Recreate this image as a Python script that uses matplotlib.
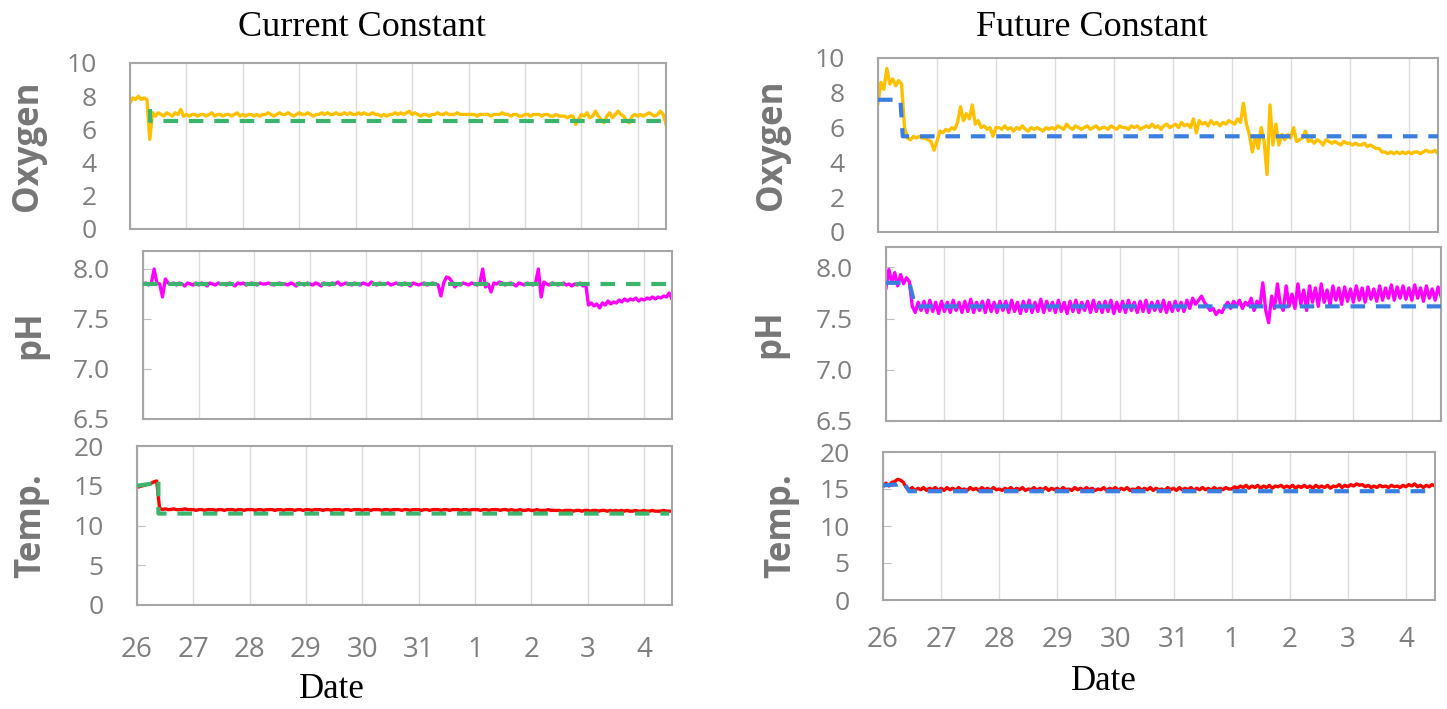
import numpy as np
import matplotlib.pyplot as plt

W, H = 1447, 709
DT = 0.05  # days between logged samples

day_labels = ['26', '27', '28', '29', '30', '31', '1', '2', '3', '4']

# ---- Current Constant (left) ----
cur_oxygen = [
    7.6, 7.9, 7.8, 8.0, 7.8, 7.9, 7.8, 5.4, 7.0, 6.8, 7.0, 6.9, 6.8, 7.0, 6.9, 6.8, 7.0, 6.9, 7.2, 6.8,
    6.9, 6.8, 6.9, 6.9, 6.8, 6.9, 6.9, 6.8, 6.9, 7.0, 6.8, 6.9, 6.9, 6.8, 6.9, 6.9, 6.8, 6.9, 7.0, 6.8,
    6.9, 6.8, 6.9, 6.9, 6.8, 6.9, 6.8, 6.9, 6.9, 7.0, 6.9, 6.8, 6.9, 7.0, 6.9, 6.9, 7.0, 6.9, 6.8, 6.9,
    7.0, 6.9, 6.9, 7.0, 6.9, 6.8, 6.9, 6.9, 7.0, 6.9, 7.0, 6.9, 6.9, 7.0, 6.9, 6.9, 7.0, 6.9, 7.0, 6.9,
    6.9, 7.0, 6.9, 7.0, 6.9, 6.9, 7.0, 6.9, 6.9, 6.8, 6.9, 6.8, 6.9, 6.9, 7.0, 6.9, 7.0, 6.9, 7.0, 7.1,
    6.9, 7.0, 6.9, 6.8, 6.9, 6.9, 6.8, 6.9, 6.9, 7.0, 6.9, 6.9, 7.0, 6.9, 6.9, 6.9, 7.0, 6.9, 6.9, 6.9,
    6.9, 6.9, 6.9, 6.8, 6.9, 6.9, 6.9, 6.9, 6.8, 6.9, 6.9, 6.9, 7.0, 6.9, 6.9, 6.8, 6.9, 6.9, 6.8, 6.8,
    6.9, 6.9, 6.8, 6.9, 6.9, 6.9, 6.8, 6.9, 6.9, 6.8, 6.8, 6.9, 6.8, 6.8, 6.8, 6.7, 6.8, 6.8, 6.3, 6.6,
    6.9, 6.8, 7.0, 6.7, 6.8, 7.1, 6.8, 6.6, 6.4, 6.8, 7.0, 6.7, 6.9, 7.1, 6.9, 6.8, 6.5, 6.4, 6.8, 6.9,
    6.8, 6.9, 6.8, 6.9, 7.0, 6.9, 6.8, 6.9, 7.1, 6.9, 6.3,
]
cur_oxygen_set_x = [0.35, 0.35, 9.45]
cur_oxygen_set = [7.2, 6.5, 6.5]

cur_ph = [
    7.85, 7.86, 7.84, 7.86, 8.00, 7.86, 7.85, 7.72, 7.90, 7.86, 7.85, 7.86, 7.84, 7.86, 7.85, 7.83, 7.86, 7.85, 7.84, 7.86,
    7.84, 7.86, 7.85, 7.83, 7.86, 7.85, 7.84, 7.86, 7.85, 7.85, 7.84, 7.86, 7.85, 7.83, 7.86, 7.85, 7.86, 7.84, 7.85, 7.86,
    7.85, 7.84, 7.86, 7.85, 7.85, 7.86, 7.85, 7.84, 7.85, 7.86, 7.85, 7.85, 7.84, 7.86, 7.85, 7.83, 7.86, 7.85, 7.84, 7.86,
    7.85, 7.84, 7.86, 7.85, 7.83, 7.86, 7.85, 7.84, 7.86, 7.85, 7.87, 7.84, 7.85, 7.86, 7.85, 7.84, 7.86, 7.85, 7.84, 7.86,
    7.85, 7.84, 7.87, 7.85, 7.84, 7.86, 7.85, 7.85, 7.86, 7.84, 7.85, 7.86, 7.85, 7.84, 7.86, 7.85, 7.83, 7.86, 7.85, 7.84,
    7.85, 7.86, 7.84, 7.85, 7.86, 7.85, 7.84, 7.73, 7.86, 7.92, 7.91, 7.87, 7.82, 7.85, 7.84, 7.86, 7.85, 7.84, 7.86, 7.85,
    7.84, 7.86, 8.00, 7.82, 7.85, 7.77, 7.86, 7.85, 7.87, 7.86, 7.84, 7.85, 7.86, 7.85, 7.83, 7.86, 7.85, 7.84, 7.86, 7.85,
    7.84, 7.86, 8.00, 7.72, 7.87, 7.85, 7.84, 7.86, 7.85, 7.84, 7.85, 7.86, 7.84, 7.85, 7.83, 7.85, 7.84, 7.86, 7.83, 7.85,
    7.64, 7.66, 7.63, 7.65, 7.61, 7.66, 7.64, 7.68, 7.65, 7.67, 7.66, 7.69, 7.67, 7.70, 7.68, 7.70, 7.69, 7.71, 7.68, 7.70,
    7.69, 7.71, 7.70, 7.72, 7.70, 7.72, 7.71, 7.73, 7.72, 7.76, 7.70,
]
cur_ph_set_x = [0, 9.5]
cur_ph_set = [7.85, 7.85]

cur_temp = [
    14.8, 14.9, 15.0, 15.1, 15.2, 15.3, 15.5, 15.6, 12.2, 12.0, 12.1, 12.0, 12.0, 12.1, 12.0, 12.0, 12.0, 12.1, 12.0, 12.0,
    12.0, 11.9, 12.0, 12.0, 11.9, 12.0, 12.0, 12.0, 11.9, 12.0, 12.0, 11.9, 12.0, 12.0, 12.0, 11.9, 12.0, 12.0, 11.9, 12.0,
    12.0, 12.0, 11.9, 12.0, 12.0, 11.9, 12.0, 12.0, 12.0, 11.9, 12.0, 12.0, 11.9, 12.0, 12.0, 12.0, 11.9, 12.0, 12.0, 11.9,
    12.0, 12.0, 11.9, 12.0, 12.0, 12.0, 11.9, 12.0, 12.0, 11.9, 12.0, 12.0, 12.0, 11.9, 12.0, 12.0, 11.9, 12.0, 12.0, 12.0,
    11.9, 12.0, 12.0, 11.9, 12.0, 12.0, 12.0, 11.9, 12.0, 12.0, 11.9, 12.0, 12.0, 12.0, 11.9, 12.0, 12.0, 11.9, 12.0, 12.0,
    12.0, 11.9, 12.0, 12.0, 11.9, 12.0, 12.0, 12.0, 11.9, 12.0, 12.0, 11.9, 12.0, 12.0, 12.0, 11.9, 12.0, 12.0, 11.9, 12.0,
    12.0, 12.0, 11.9, 12.0, 12.0, 11.9, 12.0, 12.0, 12.0, 11.9, 12.0, 12.0, 11.9, 12.0, 11.9, 11.9, 12.0, 11.9, 11.9, 12.0,
    11.9, 11.9, 12.0, 11.9, 11.9, 11.9, 12.0, 11.9, 11.9, 11.9, 11.9, 11.8, 11.9, 11.9, 11.9, 11.8, 11.9, 11.9, 11.8, 11.9,
    11.9, 11.8, 11.9, 11.9, 11.8, 11.9, 11.9, 11.8, 11.9, 11.8, 11.9, 11.8, 11.9, 11.8, 11.9, 11.8, 11.8, 11.9, 11.8, 11.8,
    11.9, 11.8, 11.8, 11.9, 11.8, 11.8, 11.8, 11.9, 11.8, 11.8, 11.8,
]
cur_temp_set_x = [0, 0.3, 0.38, 0.38, 9.45]
cur_temp_set = [15.0, 15.3, 15.8, 11.5, 11.5]

# ---- Future Constant (right) ----
fut_oxygen = [
    7.4, 8.6, 8.2, 9.4, 8.5, 8.8, 8.4, 8.7, 8.5, 6.0, 5.4, 5.3, 5.5, 5.4, 5.5, 5.4, 5.4, 5.3, 5.2, 4.7,
    5.2, 5.8, 5.7, 5.9, 5.8, 6.0, 5.9, 6.3, 7.2, 6.4, 6.8, 6.5, 7.3, 6.2, 6.4, 6.0, 6.1, 5.9, 6.0, 5.5,
    6.0, 6.0, 5.9, 6.1, 5.9, 6.0, 5.8, 6.0, 5.9, 6.1, 5.9, 5.8, 6.0, 5.9, 6.0, 5.9, 5.8, 6.0, 5.9, 6.0,
    5.9, 6.1, 6.0, 5.9, 6.2, 6.0, 5.9, 6.1, 6.0, 5.9, 6.0, 6.1, 5.9, 6.0, 6.1, 5.9, 6.0, 6.0, 5.9, 6.1,
    6.0, 5.9, 6.1, 6.0, 6.0, 5.9, 6.1, 6.0, 6.1, 5.9, 6.0, 6.1, 6.0, 6.2, 6.0, 6.1, 5.9, 6.1, 6.2, 6.0,
    6.1, 6.2, 6.0, 6.3, 6.1, 6.2, 6.0, 6.5, 5.7, 6.4, 6.2, 6.3, 6.1, 6.4, 6.2, 6.3, 6.1, 6.3, 6.2, 6.4,
    6.3, 6.2, 6.5, 6.3, 7.4, 6.2, 5.6, 4.6, 5.5, 4.8, 6.0, 5.2, 3.3, 7.3, 5.0, 6.2, 5.0, 5.6, 5.3, 5.6,
    5.4, 6.0, 5.2, 5.3, 5.4, 5.8, 5.2, 5.3, 5.1, 5.3, 5.2, 5.0, 5.3, 5.2, 5.1, 5.2, 5.1, 5.0, 5.2, 5.1,
    5.1, 5.0, 5.1, 5.0, 5.0, 5.1, 4.9, 5.0, 4.9, 4.8, 4.8, 4.6, 4.6, 4.5, 4.6, 4.5, 4.6, 4.5, 4.6, 4.5,
    4.6, 4.5, 4.6, 4.6, 4.5, 4.6, 4.7, 4.6, 4.6, 4.7, 4.5,
]
fut_oxygen_set_x = [0, 0.38, 0.42, 9.5]
fut_oxygen_set = [7.6, 7.6, 5.5, 5.5]

fut_ph = [
    7.80, 7.98, 7.85, 7.95, 7.82, 7.93, 7.84, 7.90, 7.86, 7.62, 7.56, 7.66, 7.58, 7.67, 7.56, 7.68, 7.57, 7.66, 7.55, 7.67,
    7.57, 7.66, 7.56, 7.68, 7.58, 7.66, 7.56, 7.67, 7.57, 7.69, 7.56, 7.66, 7.58, 7.67, 7.56, 7.68, 7.57, 7.66, 7.56, 7.67,
    7.58, 7.67, 7.56, 7.68, 7.57, 7.66, 7.55, 7.67, 7.57, 7.68, 7.56, 7.66, 7.57, 7.69, 7.56, 7.67, 7.58, 7.66, 7.56, 7.68,
    7.57, 7.66, 7.55, 7.67, 7.57, 7.68, 7.56, 7.66, 7.58, 7.67, 7.56, 7.68, 7.57, 7.66, 7.56, 7.67, 7.57, 7.68, 7.55, 7.66,
    7.57, 7.67, 7.56, 7.68, 7.58, 7.66, 7.56, 7.67, 7.57, 7.68, 7.56, 7.66, 7.58, 7.67, 7.57, 7.68, 7.56, 7.66, 7.57, 7.67,
    7.58, 7.66, 7.57, 7.68, 7.60, 7.70, 7.64, 7.68, 7.72, 7.66, 7.62, 7.58, 7.60, 7.54, 7.58, 7.56, 7.62, 7.66, 7.60, 7.67,
    7.62, 7.68, 7.60, 7.66, 7.63, 7.70, 7.58, 7.67, 7.62, 7.85, 7.58, 7.46, 7.72, 7.60, 7.84, 7.64, 7.58, 7.82, 7.62, 7.74,
    7.60, 7.84, 7.64, 7.78, 7.58, 7.82, 7.66, 7.80, 7.62, 7.84, 7.66, 7.78, 7.63, 7.82, 7.68, 7.80, 7.64, 7.81, 7.67, 7.79,
    7.66, 7.82, 7.68, 7.80, 7.66, 7.81, 7.69, 7.79, 7.67, 7.82, 7.68, 7.80, 7.70, 7.83, 7.68, 7.81, 7.70, 7.82, 7.69, 7.80,
    7.68, 7.83, 7.70, 7.80, 7.67, 7.82, 7.70, 7.79, 7.68, 7.81, 7.72,
]
fut_ph_set_x = [0, 0.4, 0.5, 9.5]
fut_ph_set = [7.85, 7.85, 7.62, 7.62]

fut_temp = [
    15.3, 15.8, 15.4, 15.9, 16.0, 16.3, 16.2, 15.9, 15.2, 14.9, 15.2, 14.8, 15.1, 14.9, 15.2, 14.8, 15.1, 14.9, 15.2, 14.8,
    15.1, 14.8, 15.2, 14.9, 15.1, 14.8, 15.2, 14.9, 15.0, 14.8, 15.2, 14.9, 15.1, 14.8, 15.2, 14.9, 15.1, 14.8, 15.2, 14.9,
    15.0, 14.8, 15.1, 14.9, 15.2, 14.8, 15.1, 14.9, 15.2, 14.8, 15.0, 14.9, 15.2, 14.8, 15.1, 14.9, 15.2, 14.8, 15.1, 14.9,
    15.1, 14.8, 15.2, 14.9, 15.0, 14.8, 15.2, 14.9, 15.1, 14.8, 15.2, 14.9, 15.1, 14.8, 15.0, 14.9, 15.2, 14.8, 15.1, 14.9,
    15.2, 14.8, 15.1, 14.9, 15.2, 14.8, 15.0, 14.9, 15.2, 14.8, 15.1, 14.9, 15.2, 14.8, 15.1, 14.9, 15.0, 14.8, 15.2, 14.9,
    15.1, 14.8, 15.2, 14.9, 15.1, 14.9, 15.2, 14.8, 15.1, 14.9, 15.2, 14.9, 15.1, 14.8, 15.2, 14.9, 15.1, 14.9, 15.2, 15.0,
    15.0, 15.3, 15.1, 15.4, 15.2, 15.5, 15.1, 15.4, 15.2, 15.5, 15.1, 15.4, 15.2, 15.5, 15.1, 15.4, 15.3, 15.5, 15.2, 15.4,
    15.2, 15.5, 15.1, 15.4, 15.2, 15.5, 15.2, 15.4, 15.1, 15.5, 15.2, 15.4, 15.2, 15.5, 15.1, 15.4, 15.3, 15.6, 15.2, 15.5,
    15.3, 15.6, 15.4, 15.7, 15.5, 15.6, 15.3, 15.5, 15.2, 15.4, 15.2, 15.5, 15.3, 15.4, 15.2, 15.5, 15.3, 15.4, 15.2, 15.5,
    15.3, 15.6, 15.4, 15.7, 15.3, 15.5, 15.2, 15.5, 15.3, 15.6, 15.4,
]
fut_temp_set_x = [0, 0.25, 0.35, 0.45, 9.5]
fut_temp_set = [15.5, 15.6, 16.0, 14.7, 14.7]

ORANGE = '#FFC000'
MAGENTA = '#FF00FF'
RED = '#FF0000'
GREEN = '#3BB56C'
BLUE = '#3A7FE0'
GREY = '#7f7f7f'

TICK_FONT = 'Open Sans'
SERIF = 'Liberation Serif'

fig = plt.figure(figsize=(W / 100, H / 100), dpi=100)


def px_axes(x0, y0, x1, y1):
    return fig.add_axes([x0 / W, 1 - y1 / H, (x1 - x0) / W, (y1 - y0) / H])


def style_panel(ax, ylim, yticks, yfmt, label, label_right_px, tick_in, show_x, xpad=20):
    ax.set_xlim(0, 9.5)
    ax.set_ylim(*ylim)
    ax.set_xticks(range(10))
    ax.set_yticks(yticks)
    ax.set_yticklabels([yfmt.format(v) for v in yticks], fontsize=19,
                       color=GREY, family=TICK_FONT)
    ax.grid(axis='x', color='#dcdcdc', lw=1.0)
    ax.set_axisbelow(True)
    for s in ax.spines.values():
        s.set_color('#a6a6a6')
        s.set_linewidth(1.5)
    ax.tick_params(axis='y', direction='in', length=6 if tick_in else 0,
                   color='#bfbfbf', pad=24)
    ax.tick_params(axis='x', length=0, pad=xpad)
    if show_x:
        ax.set_xticklabels(day_labels, fontsize=20, color=GREY, family=TICK_FONT)
    else:
        ax.set_xticklabels([])
    ax.set_ylabel(label, fontsize=25, color='#767676', fontweight='bold',
                  family=TICK_FONT)
    # label anchor is its right edge (bottom of the rotated text)
    bb = ax.get_position()
    ax.yaxis.set_label_coords((label_right_px / W - bb.x0) / bb.width, 0.5)


def series(ax, values, color):
    t = np.arange(len(values)) * DT
    ax.plot(t, values, color=color, lw=2.4, zorder=2)


def setpoint(ax, x, y, color):
    ax.plot(x, y, color=color, lw=3.0, dashes=(3.5, 2.6), zorder=3)


# left column
ax = px_axes(130, 63, 666, 229)
series(ax, cur_oxygen, ORANGE)
setpoint(ax, cur_oxygen_set_x, cur_oxygen_set, GREEN)
style_panel(ax, (0, 10), [0, 2, 4, 6, 8, 10], '{:g}', 'Oxygen', 46, False, False)

ax = px_axes(143, 251, 672, 419)
series(ax, cur_ph, MAGENTA)
setpoint(ax, cur_ph_set_x, cur_ph_set, GREEN)
style_panel(ax, (6.5, 8.18), [6.5, 7.0, 7.5, 8.0], '{:.1f}', 'pH', 48, True, False)

ax = px_axes(137, 446, 672, 605)
series(ax, cur_temp, RED)
setpoint(ax, cur_temp_set_x, cur_temp_set, GREEN)
style_panel(ax, (0, 20), [0, 5, 10, 15, 20], '{:g}', 'Temp.', 49, True, True, xpad=22)

# right column
ax = px_axes(878, 58, 1438, 232)
series(ax, fut_oxygen, ORANGE)
setpoint(ax, fut_oxygen_set_x, fut_oxygen_set, BLUE)
style_panel(ax, (0, 10), [0, 2, 4, 6, 8, 10], '{:g}', 'Oxygen', 790, False, False)

ax = px_axes(886, 247, 1441, 421)
series(ax, fut_ph, MAGENTA)
setpoint(ax, fut_ph_set_x, fut_ph_set, BLUE)
style_panel(ax, (6.5, 8.2), [6.5, 7.0, 7.5, 8.0], '{:.1f}', 'pH', 788, True, False)

ax = px_axes(883, 452, 1435, 600)
series(ax, fut_temp, RED)
setpoint(ax, fut_temp_set_x, fut_temp_set, BLUE)
style_panel(ax, (0, 20), [0, 5, 10, 15, 20], '{:g}', 'Temp.', 799, True, True, xpad=19)

fig.text(362 / W, 1 - 28 / H, 'Current Constant', ha='center', va='center',
         fontsize=26, family=SERIF)
fig.text(1092 / W, 1 - 28 / H, 'Future Constant', ha='center', va='center',
         fontsize=26, family=SERIF)
fig.text(332 / W, 1 - 690 / H, 'Date', ha='center', va='center',
         fontsize=25, family=SERIF)
fig.text(1104 / W, 1 - 682 / H, 'Date', ha='center', va='center',
         fontsize=25, family=SERIF)

fig.savefig('out.png', dpi=100)
